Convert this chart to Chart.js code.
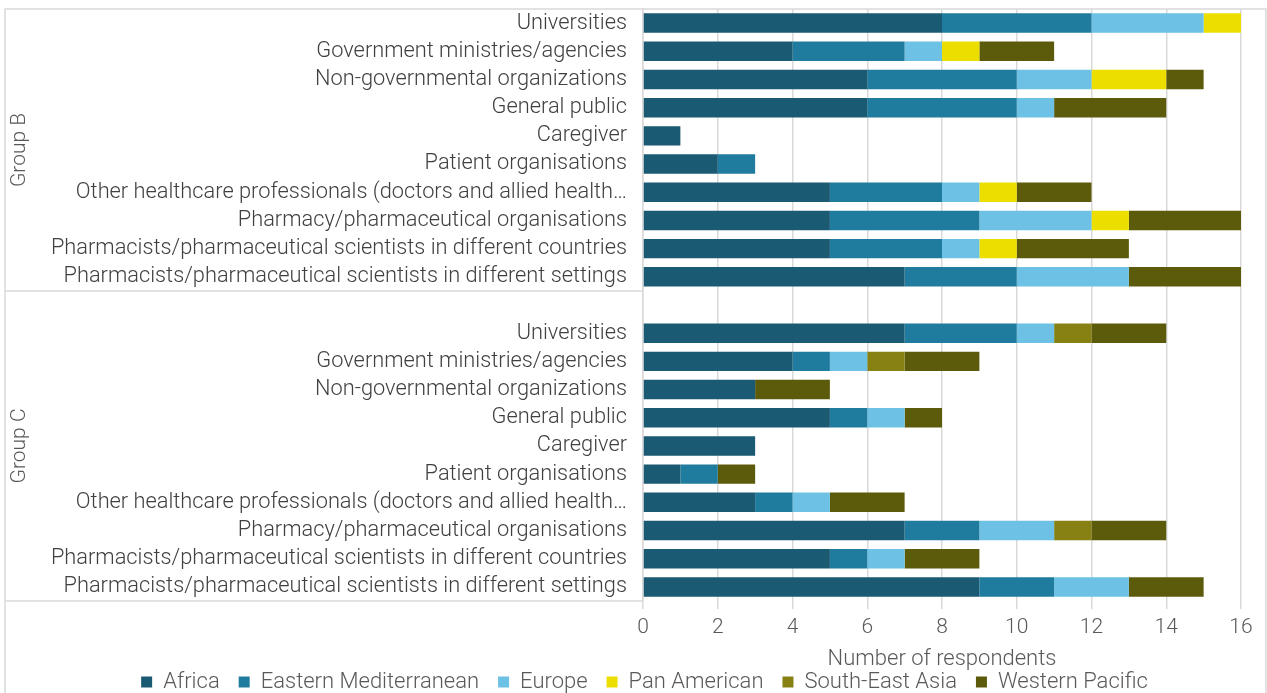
<!DOCTYPE html>
<html>
<head>
<meta charset="utf-8">
<script src="https://cdn.jsdelivr.net/npm/chart.js@4/dist/chart.umd.min.js"></script>
<style>
html, body { margin: 0; padding: 0; background: #fff; overflow: hidden; }
#caixa { width: 1267px; height: 693px; position: relative; }
</style>
</head>
<body>
<div id="caixa"><canvas id="grafico"></canvas></div>
<script>
const fonte = "Roboto, 'Liberation Sans', sans-serif";

const categorias = [
    "Universities",
    "Government ministries/agencies",
    "Non-governmental organizations",
    "General public",
    "Caregiver",
    "Patient organisations",
    "Other healthcare professionals (doctors and allied health…",
    "Pharmacy/pharmaceutical organisations",
    "Pharmacists/pharmaceutical scientists in different countries",
    "Pharmacists/pharmaceutical scientists in different settings"
];

const grupos = ["Group B", "Group C"];

// linha vazia entre os grupos: o grupo C começa com ela
const rotulos = [...categorias, "", ...categorias];

const regioes = ["Africa", "Eastern Mediterranean", "Europe", "Pan American", "South-East Asia", "Western Pacific"];
const cores = ["#1a5a72", "#207c9e", "#6cc1e4", "#ecdf00", "#868112", "#5c5a0b"];

//                 Group B                          |  | Group C
const africa    = [8, 4, 6, 6, 1, 2, 5, 5, 5, 7, null, 7, 4, 3, 5, 3, 1, 3, 7, 5, 9];
const mediterr  = [4, 3, 4, 4, 0, 1, 3, 4, 3, 3, null, 3, 1, 0, 1, 0, 1, 1, 2, 1, 2];
const europa    = [3, 1, 2, 1, 0, 0, 1, 3, 1, 3, null, 1, 1, 0, 1, 0, 0, 1, 2, 1, 2];
const panAm     = [1, 1, 2, 0, 0, 0, 1, 1, 1, 0, null, 0, 0, 0, 0, 0, 0, 0, 0, 0, 0];
const sudeste   = [0, 0, 0, 0, 0, 0, 0, 0, 0, 0, null, 1, 1, 0, 0, 0, 0, 0, 1, 0, 0];
const pacifico  = [0, 2, 1, 3, 0, 0, 2, 3, 3, 3, null, 2, 2, 2, 1, 0, 1, 2, 2, 2, 2];

const series = [africa, mediterr, europa, panAm, sudeste, pacifico];

const ticksX = [0, 2, 4, 6, 8, 10, 12, 14, 16];

/* moldura, divisões dos grupos e rótulos verticais */
const pluginGrupos = {
    id: "grupos",
    afterDraw(chart) {
        const { ctx, chartArea } = chart;
        const y = chart.scales.y;
        const topo = chartArea.top;
        const base = chartArea.bottom;
        const divisa = (y.getPixelForValue(9) + y.getPixelForValue(10)) / 2;
        const esq = 5;
        const dir = chart.width - 1;

        ctx.save();
        ctx.strokeStyle = "#d9d9d9";
        ctx.lineWidth = 1.5;
        ctx.beginPath();
        ctx.moveTo(esq, chart.height + 5);
        ctx.lineTo(esq, topo);
        ctx.lineTo(dir, topo);
        ctx.lineTo(dir, chart.height + 5);
        ctx.moveTo(esq, divisa);
        ctx.lineTo(chartArea.left, divisa);
        ctx.moveTo(esq, base);
        ctx.lineTo(chartArea.left, base);
        ctx.stroke();

        ctx.fillStyle = "#595959";
        ctx.font = "300 21px " + fonte;
        ctx.textAlign = "center";
        ctx.textBaseline = "middle";
        [[topo, divisa], [divisa, base]].forEach(([a, b], i) => {
            ctx.save();
            ctx.translate(20, (a + b) / 2);
            ctx.rotate(-Math.PI / 2);
            ctx.fillText(grupos[i], 0, 0);
            ctx.restore();
        });
        ctx.restore();
    }
};

new Chart(document.getElementById("grafico"), {
    type: "bar",
    data: {
        labels: rotulos,
        datasets: regioes.map((r, i) => ({
            label: r,
            data: series[i],
            backgroundColor: cores[i],
            borderWidth: 0,
            barPercentage: 0.69,
            categoryPercentage: 1
        }))
    },
    options: {
        indexAxis: "y",
        responsive: true,
        maintainAspectRatio: false,
        animation: false,
        // a folga à esquerda só empurra a legenda; o eixo y ocupa o resto até x = 643
        layout: { padding: { top: 9, right: 26, left: 48, bottom: 0 } },
        plugins: {
            legend: {
                position: "bottom",
                maxHeight: 41,
                labels: {
                    color: "#595959",
                    font: { family: fonte, size: 22, weight: 300 },
                    boxWidth: 11,
                    boxHeight: 11,
                    padding: 19
                }
            },
            tooltip: { enabled: false }
        },
        scales: {
            x: {
                stacked: true,
                min: 0,
                max: 16,
                afterBuildTicks: s => { s.ticks = ticksX.map(v => ({ value: v })); },
                ticks: { color: "#595959", font: { family: fonte, size: 21, weight: 300 }, padding: 6 },
                grid: { color: "#d9d9d9", lineWidth: 1.5, tickLength: 8 },
                border: { display: false },
                title: {
                    display: true,
                    text: "Number of respondents",
                    color: "#595959",
                    font: { family: fonte, size: 22, weight: 300 },
                    padding: { top: 0, bottom: -21 }
                },
                afterFit: s => { s.height = 51; }
            },
            y: {
                stacked: true,
                grid: { display: false, drawTicks: false },
                border: { display: true, color: "#d9d9d9", width: 1.5 },
                ticks: {
                    autoSkip: false,
                    color: "#404040",
                    font: { family: fonte, size: 21.8, weight: 300 },
                    padding: 16
                },
                afterFit: s => {
                    s.width = 595;
                    s.paddingTop = 0;
                    s.paddingBottom = 0;
                }
            }
        }
    },
    plugins: [pluginGrupos]
});
</script>
</body>
</html>
